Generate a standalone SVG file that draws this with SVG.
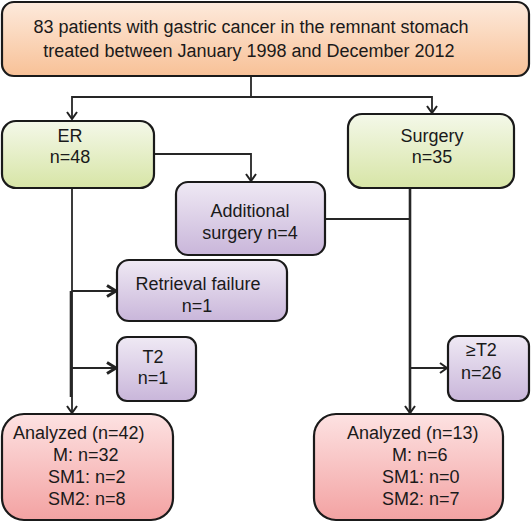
<svg xmlns="http://www.w3.org/2000/svg" width="532" height="523" viewBox="0 0 532 523">
<defs>
<linearGradient id="gO" x1="0" y1="0" x2="0" y2="1"><stop offset="0" stop-color="#fdeadc"/><stop offset="1" stop-color="#f8c197"/></linearGradient>
<linearGradient id="gG" x1="0" y1="0" x2="0" y2="1"><stop offset="0" stop-color="#f4f8e9"/><stop offset="1" stop-color="#d7e5a6"/></linearGradient>
<linearGradient id="gP" x1="0" y1="0" x2="0" y2="1"><stop offset="0" stop-color="#efe9f4"/><stop offset="1" stop-color="#c9b6da"/></linearGradient>
<linearGradient id="gR" x1="0" y1="0" x2="0" y2="1"><stop offset="0" stop-color="#fde2e2"/><stop offset="1" stop-color="#f3a2a2"/></linearGradient>
<marker id="ah" markerWidth="12" markerHeight="12" refX="10" refY="6" orient="auto" markerUnits="userSpaceOnUse">
<path d="M3,1 L10,6 L3,11" fill="none" stroke="#222" stroke-width="2"/>
</marker>
<marker id="ahb" markerWidth="14" markerHeight="14" refX="12" refY="7" orient="auto" markerUnits="userSpaceOnUse">
<path d="M3,1.5 L12,7 L3,12.5" fill="none" stroke="#222" stroke-width="3"/>
</marker>
</defs>
<style>
.box{stroke:#1a1a1a;stroke-width:2.2}
.t{font-family:"Liberation Sans",Arial,sans-serif;font-size:18px;fill:#1a1a1a}
.c{text-anchor:middle}
.ln{fill:none;stroke:#262626;stroke-width:1.8}
.lb{fill:none;stroke:#262626;stroke-width:2.6}
</style>
<g id="connectors">
<path class="ln" d="M251,76 V97 H72 V119" marker-end="url(#ah)"/>
<path class="ln" d="M251,97 H432 V113" marker-end="url(#ah)"/>
<path class="ln" d="M154,154 H251 V181" marker-end="url(#ah)"/>
<path class="ln" d="M72,188 V413" marker-end="url(#ah)"/>
<path class="lb" d="M71,291 V397"/>
<path class="ln" d="M72,291 H116" marker-end="url(#ahb)"/>
<path class="ln" d="M72,368 H116" marker-end="url(#ahb)"/>
<path class="ln" d="M325,219 H410"/>
<path class="lb" d="M410,188 V413" marker-end="url(#ah)"/>
<path class="ln" d="M410,368 H447" marker-end="url(#ah)"/>
</g>
<g id="n-top">
<rect class="box" x="2" y="2" width="527" height="74" rx="12" fill="url(#gO)"/>
<text class="t c" x="251" y="33">83 patients with gastric cancer in the remnant stomach</text>
<text class="t c" x="249" y="57">treated between January 1998 and December 2012</text>
</g>
<g id="n-er">
<rect class="box" x="2" y="121" width="152" height="67" rx="14" fill="url(#gG)"/>
<text class="t c" x="70" y="142">ER</text>
<text class="t c" x="70" y="163">n=48</text>
</g>
<g id="n-surgery">
<rect class="box" x="348" y="114" width="166" height="74" rx="14" fill="url(#gG)"/>
<text class="t c" x="432" y="142">Surgery</text>
<text class="t c" x="432" y="163">n=35</text>
</g>
<g id="n-additional">
<rect class="box" x="176" y="182" width="149" height="73" rx="12" fill="url(#gP)"/>
<text class="t c" x="250" y="217">Additional</text>
<text class="t c" x="250" y="239">surgery n=4</text>
</g>
<g id="n-retrieval">
<rect class="box" x="117" y="260" width="170" height="61" rx="12" fill="url(#gP)"/>
<text class="t c" x="198" y="290">Retrieval failure</text>
<text class="t c" x="197" y="312">n=1</text>
</g>
<g id="n-t2">
<rect class="box" x="117" y="337" width="79" height="64" rx="10" fill="url(#gP)"/>
<text class="t c" x="153" y="363">T2</text>
<text class="t c" x="153" y="384">n=1</text>
</g>
<g id="n-get2">
<rect class="box" x="448" y="336" width="81" height="65" rx="10" fill="url(#gP)"/>
<text class="t" x="466" y="356">≥T2</text>
<text class="t" x="461" y="379">n=26</text>
</g>
<g id="n-analyzed-er">
<rect class="box" x="2" y="414" width="171" height="106" rx="22" fill="url(#gR)"/>
<text class="t" x="13" y="439">Analyzed (n=42)</text>
<text class="t" x="53" y="461">M: n=32</text>
<text class="t" x="48" y="483">SM1: n=2</text>
<text class="t" x="48" y="505">SM2: n=8</text>
</g>
<g id="n-analyzed-surgery">
<rect class="box" x="314" y="414" width="189" height="106" rx="22" fill="url(#gR)"/>
<text class="t" x="347" y="439">Analyzed (n=13)</text>
<text class="t" x="392" y="461">M: n=6</text>
<text class="t" x="382" y="483">SM1: n=0</text>
<text class="t" x="382" y="505">SM2: n=7</text>
</g>
</svg>
